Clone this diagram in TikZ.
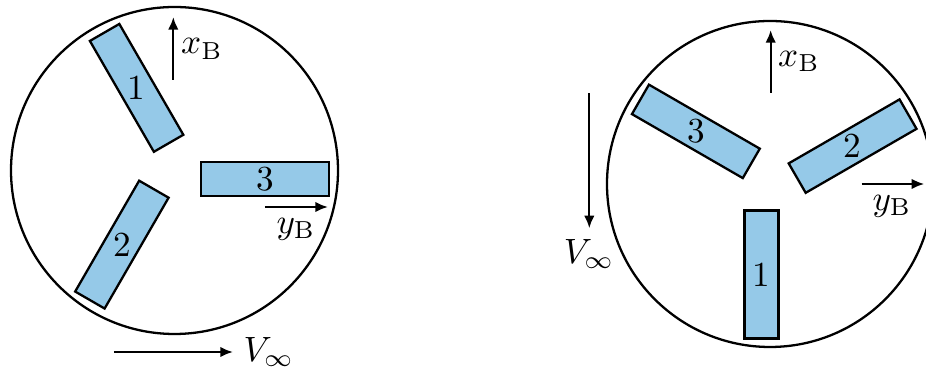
\documentclass[tikz,border=0pt]{standalone}
\usetikzlibrary{arrows.meta}
\definecolor{bladeblue}{RGB}{149,201,232}
\begin{document}
\begin{tikzpicture}[x=0.01cm,y=0.01cm,
  ring/.style={draw=black, line width=0.65pt},
  blade/.style={draw=black, fill=bladeblue, line width=0.65pt},
  arr/.style={line width=0.65pt, -{Latex[length=3.6pt,width=3pt]}},
  lbl/.style={inner sep=0pt}]
\useasboundingbox (0,0) rectangle (926,370);
% ---------- left rotor ----------
\coordinate (CL) at (174.5,199.5);
\draw[ring] (CL) circle (163.5);
\begin{scope}[shift={(CL)}]
  \foreach \a/\n in {0/3,120/1,240/2}{
    \begin{scope}[rotate=\a]
      \draw[blade] (26.5,-25.5) rectangle (154.5,8.5);
      \node[lbl] (L\n) at (90.5,-8.5) {\n};
    \end{scope}
  }
\end{scope}
\coordinate (LxS) at (173.3,290);
\coordinate (LxE) at (173.3,353);
\draw[arr] (LxS) -- (LxE);
\node[lbl] (Lx) at (202,321) {$x_{\mathrm{B}}$};
\coordinate (LyS) at (265,163);
\coordinate (LyE) at (328,163);
\draw[arr] (LyS) -- (LyE);
\node[lbl] (Ly) at (296,141) {$y_{\mathrm{B}}$};
\coordinate (LvS) at (114,18);
\coordinate (LvE) at (233,18);
\draw[arr] (LvS) -- (LvE);
\node[lbl, anchor=west] (Lv) at (243,18) {$V_\infty$};
% ---------- right rotor ----------
\coordinate (CR) at (770,186);
\draw[ring] (CR) circle (163);
\begin{scope}[shift={(CR)}]
  \foreach \a/\n in {150/3,270/1,30/2}{
    \begin{scope}[rotate=\a]
      \draw[blade] (26.5,-25.5) rectangle (154.5,8.5);
      \node[lbl] (R\n) at (90.5,-8.5) {\n};
    \end{scope}
  }
\end{scope}
\coordinate (RxS) at (770.7,277.3);
\coordinate (RxE) at (770.7,340);
\draw[arr] (RxS) -- (RxE);
\node[lbl] (Rx) at (799,308.3) {$x_{\mathrm{B}}$};
\coordinate (RyS) at (861.7,186);
\coordinate (RyE) at (924.3,186);
\draw[arr] (RyS) -- (RyE);
\node[lbl] (Ry) at (892,164) {$y_{\mathrm{B}}$};
\coordinate (RvS) at (589.3,276.7);
\coordinate (RvE) at (589.3,141.7);
\draw[arr] (RvS) -- (RvE);
\node[lbl] (Rv) at (589,116) {$V_\infty$};
\end{tikzpicture}
\end{document}
